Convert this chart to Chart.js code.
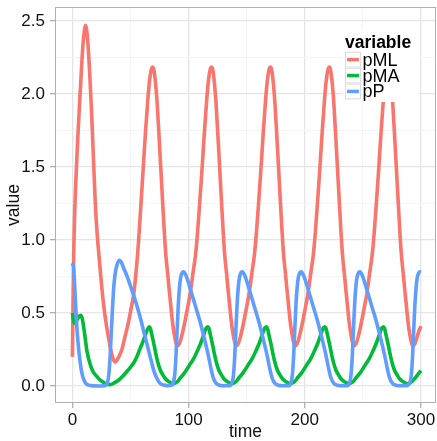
<!DOCTYPE html>
<html>
<head>
<meta charset="utf-8">
<script src="https://cdn.jsdelivr.net/npm/chart.js@4.4.1/dist/chart.umd.min.js"></script>
<style>
  html, body { margin: 0; padding: 0; background: #fff; }
  #wrap { width: 437px; height: 441px; }
</style>
</head>
<body>
<div id="wrap"><canvas id="chart"></canvas></div>
<script>
// series
const seriesNames = ["pML", "pMA", "pP"];
const seriesColors = ["#F8766D", "#00BA38", "#619CFF"];

const pMLTime = [0,0.5,1,1.5,2.2,3.2,4.5,6,7.5,9,10.2,11.2,12.2,13.5,15,16.3,18,19.7,21.5,23,25,26.9,29,31.2,33,34.5,36,37,38.5,40.5,42.6,45,48.3,50.5,52.6,55,57,59.2,61,63,65,66.5,68,
  69,70,71.5,73,75,77.6,79,80.4,82,83.3,84.7,86.1,87.5,89,90.5,92,
  93.7,95.2,96.8,99.2,101.1,103.9,106,107.7,109.7,111.7,113.7,115.7,117.2,118.7,
  119.7,120.7,122.2,123.7,125.7,128.3,129.7,131.1,132.7,134,135.4,136.8,138.2,139.7,141.2,142.7,
  144.4,145.9,147.5,149.9,151.8,154.6,156.7,158.4,160.4,162.4,164.4,166.4,167.9,169.4,
  170.4,171.4,172.9,174.4,176.4,179,180.4,181.8,183.4,184.7,186.1,187.5,188.9,190.4,191.9,193.4,
  195.1,196.6,198.2,200.6,202.5,205.3,207.4,209.1,211.1,213.1,215.1,217.1,218.6,220.1,
  221.1,222.1,223.6,225.1,227.1,229.7,231.1,232.5,234.1,235.4,236.8,238.2,239.6,241.1,242.6,244.1,
  245.8,247.3,248.9,251.3,253.2,256,258.1,259.8,261.8,263.8,265.8,267.8,269.3,270.8,
  271.8,272.8,274.3,275.8,277.8,280.4,281.8,283.2,284.8,286.1,287.5,288.9,290.3,291.8,293.3,294.8,296.5,298,300];
const pMLValue = [0.2,0.55,0.85,1.05,1.25,1.45,1.68,1.91,2.13,2.33,2.43,2.47,2.44,2.33,2.12,1.91,1.58,1.25,1.02,0.88,0.7,0.555,0.43,0.326,0.25,0.2,0.17,0.165,0.18,0.21,0.25,0.33,0.44,0.53,0.62,0.8,1.0,1.27,1.5,1.75,1.97,2.1,2.17,
  2.185,2.17,2.08,1.93,1.65,1.27,1.07,0.9,0.77,0.66,0.55,0.44,0.36,0.3,0.275,0.29,
  0.33,0.38,0.44,0.54,0.62,0.78,0.9,1.05,1.27,1.5,1.75,1.97,2.1,2.17,
  2.185,2.17,2.08,1.93,1.65,1.27,1.07,0.9,0.77,0.66,0.55,0.44,0.36,0.3,0.275,0.29,
  0.33,0.38,0.44,0.54,0.62,0.78,0.9,1.05,1.27,1.5,1.75,1.97,2.1,2.17,
  2.185,2.17,2.08,1.93,1.65,1.27,1.07,0.9,0.77,0.66,0.55,0.44,0.36,0.3,0.275,0.29,
  0.33,0.38,0.44,0.54,0.62,0.78,0.9,1.05,1.27,1.5,1.75,1.97,2.1,2.17,
  2.185,2.17,2.08,1.93,1.65,1.27,1.07,0.9,0.77,0.66,0.55,0.44,0.36,0.3,0.275,0.29,
  0.33,0.38,0.44,0.54,0.62,0.78,0.9,1.05,1.27,1.5,1.75,1.97,2.1,2.17,
  2.185,2.17,2.08,1.93,1.65,1.27,1.07,0.9,0.77,0.66,0.55,0.44,0.36,0.3,0.275,0.29,0.33,0.37,0.41];

const pMATime = [0,0.8,1.7,3,5,7,8.5,10.3,12.6,15.5,18,21.2,24,26.9,29.5,32.6,36,39.7,43,46.9,50,53.2,56,58.4,60.5,62.5,64.5,
  66.1,67.1,68.1,69.1,70.6,72.1,73.6,75.6,77.6,79.6,82.1,84.1,87.1,90.1,
  93.5,96.5,100.5,104.5,107.5,110.5,112.5,114.5,115.5,
  116.5,117.5,118.5,119.5,121,122.5,124,126,128,130,132.5,134.5,137.5,140.5,
  143.9,146.9,150.9,154.9,157.9,160.9,162.9,164.9,165.9,
  166.9,167.9,168.9,169.9,171.4,172.9,174.4,176.4,178.4,180.4,182.9,184.9,187.9,190.9,
  194.3,197.3,201.3,205.3,208.3,211.3,213.3,215.3,216.3,
  217.3,218.3,219.3,220.3,221.8,223.3,224.8,226.8,228.8,230.8,233.3,235.3,238.3,241.3,
  244.7,247.7,251.7,255.7,258.7,261.7,263.7,265.7,266.7,
  267.7,268.7,269.7,270.7,272.2,273.7,275.2,277.2,279.2,281.2,283.7,285.7,288.7,291.7,294.5,297,300];
const pMAValue = [0.5,0.46,0.43,0.44,0.47,0.485,0.46,0.37,0.235,0.144,0.095,0.064,0.04,0.025,0.014,0.01,0.022,0.04,0.065,0.1,0.13,0.165,0.21,0.26,0.3,0.345,0.385,
  0.406,0.395,0.36,0.325,0.27,0.21,0.16,0.11,0.08,0.055,0.035,0.025,0.017,0.028,
  0.062,0.09,0.14,0.19,0.24,0.295,0.34,0.385,0.4,
  0.406,0.395,0.36,0.325,0.27,0.21,0.16,0.11,0.08,0.055,0.035,0.025,0.017,0.028,
  0.062,0.09,0.14,0.19,0.24,0.295,0.34,0.385,0.4,
  0.406,0.395,0.36,0.325,0.27,0.21,0.16,0.11,0.08,0.055,0.035,0.025,0.017,0.028,
  0.062,0.09,0.14,0.19,0.24,0.295,0.34,0.385,0.4,
  0.406,0.395,0.36,0.325,0.27,0.21,0.16,0.11,0.08,0.055,0.035,0.025,0.017,0.028,
  0.062,0.09,0.14,0.19,0.24,0.295,0.34,0.385,0.4,
  0.406,0.395,0.36,0.325,0.27,0.21,0.16,0.11,0.08,0.055,0.035,0.025,0.017,0.028,0.05,0.075,0.105];

const pPTime = [0,0.5,1.2,2,2.8,4,5.4,6.9,8.3,9.7,11.5,14,18,24,28.3,30,31.2,32.3,33.2,34.3,35.5,36.8,38.4,40.5,42,44,46.9,49.8,52.6,55.5,58.4,61.2,64.1,66.3,68.4,70.5,72.7,75,78.4,82,85,
  87.1,88.1,89.1,90.1,91.1,92.1,93.1,94.4,95.6,97.6,101.3,105.6,109.9,113.6,117,119.3,121.3,123.6,126.6,130.6,135.6,
  137.7,138.7,139.7,140.7,141.7,142.7,143.7,145,146.2,148.2,151.9,156.2,160.5,164.2,167.6,169.9,171.9,174.2,177.2,181.2,186.2,
  188.4,189.4,190.4,191.4,192.4,193.4,194.4,195.7,196.9,198.9,202.6,206.9,211.2,214.9,218.3,220.6,222.6,224.9,227.9,231.9,236.9,
  238.9,239.9,240.9,241.9,242.9,243.9,244.9,246.2,247.4,249.4,253.1,257.4,261.7,265.4,268.8,271.1,273.1,275.4,278.4,282.4,287.4,
  290.8,291.8,292.8,293.8,294.8,295.8,296.8,298.1,299.3,300];
const pPValue = [0.82,0.835,0.79,0.68,0.55,0.38,0.25,0.15,0.085,0.045,0.018,0.006,0.001,0,0.004,0.02,0.07,0.18,0.326,0.5,0.67,0.77,0.83,0.862,0.85,0.81,0.755,0.69,0.625,0.55,0.47,0.38,0.29,0.22,0.155,0.095,0.053,0.022,0.007,0.003,0.005,
  0.03,0.08,0.2,0.38,0.55,0.67,0.74,0.775,0.782,0.76,0.67,0.555,0.44,0.325,0.21,0.12,0.055,0.02,0.006,0.002,0.003,
  0.03,0.08,0.2,0.38,0.55,0.67,0.74,0.775,0.782,0.76,0.67,0.555,0.44,0.325,0.21,0.12,0.055,0.02,0.006,0.002,0.003,
  0.03,0.08,0.2,0.38,0.55,0.67,0.74,0.775,0.782,0.76,0.67,0.555,0.44,0.325,0.21,0.12,0.055,0.02,0.006,0.002,0.003,
  0.03,0.08,0.2,0.38,0.55,0.67,0.74,0.775,0.782,0.76,0.67,0.555,0.44,0.325,0.21,0.12,0.055,0.02,0.006,0.002,0.003,
  0.03,0.08,0.2,0.38,0.55,0.67,0.74,0.775,0.782,0.78];

// axis ticks (majors get labels, the rest are minor grid lines)
const xTicks = [0, 50, 100, 150, 200, 250, 300];
const xMajor = [0, 100, 200, 300];
const yTicks = [0, 0.25, 0.5, 0.75, 1, 1.25, 1.5, 1.75, 2, 2.25, 2.5];
const yMajor = [0, 0.5, 1, 1.5, 2, 2.5];

const FONT = "'Liberation Sans', Arial, Helvetica, sans-serif";

function toPoints(times, values) {
  return times.map((t, i) => ({ x: t, y: values[i] }));
}

const isMajorX = (v) => xMajor.includes(v);
const isMajorY = (v) => yMajor.some((m) => Math.abs(m - v) < 1e-9);

// ggplot style frame + legend inside the panel
const panelExtras = {
  id: "panelExtras",
  afterDatasetsDraw(chart) {
    const { ctx, chartArea: a } = chart;
    ctx.save();
    ctx.strokeStyle = "#b0b0b0";
    ctx.lineWidth = 1;
    ctx.strokeRect(a.left + 0.5, a.top + 0.5, a.right - a.left - 1, a.bottom - a.top - 1);

    // legend box
    const lx = a.right - 91;
    const ly = a.top + 23;
    ctx.fillStyle = "#ffffff";
    ctx.fillRect(lx - 2, ly, 76, 72);
    ctx.fillStyle = "#000";
    ctx.font = "bold 17.5px " + FONT;
    ctx.textBaseline = "alphabetic";
    ctx.textAlign = "left";
    ctx.fillText("variable", lx, ly + 18);

    const keyTop = ly + 21.7;
    const keySize = 15.9;
    seriesNames.forEach((name, i) => {
      const ky = keyTop + i * keySize;
      ctx.fillStyle = "#ffffff";
      ctx.fillRect(lx, ky, keySize, keySize);
      ctx.strokeStyle = "#d9d9d9";
      ctx.lineWidth = 1;
      ctx.strokeRect(lx + 0.5, ky + 0.5, keySize - 1, keySize - 1);
      ctx.strokeStyle = seriesColors[i];
      ctx.lineWidth = 3.5;
      ctx.beginPath();
      ctx.moveTo(lx + 2, ky + keySize / 2);
      ctx.lineTo(lx + keySize - 2, ky + keySize / 2);
      ctx.stroke();
      ctx.fillStyle = "#000";
      ctx.font = "18px " + FONT;
      ctx.textBaseline = "middle";
      ctx.fillText(name, lx + keySize + 1.5, ky + keySize / 2 + 1);
    });
    ctx.restore();
  },
};

const allTimes = [pMLTime, pMATime, pPTime];
const allValues = [pMLValue, pMAValue, pPValue];

new Chart(document.getElementById("chart"), {
  type: "line",
  data: {
    datasets: seriesNames.map((name, i) => ({
      label: name,
      data: toPoints(allTimes[i], allValues[i]),
      borderColor: seriesColors[i],
      backgroundColor: seriesColors[i],
      borderWidth: 3.6,
      pointRadius: 0,
      cubicInterpolationMode: "monotone",
      borderJoinStyle: "round",
      fill: false,
      order: 3 - i,
    })),
  },
  options: {
    responsive: true,
    maintainAspectRatio: false,
    animation: false,
    layout: { padding: { top: 7, right: 1, left: 0, bottom: 0 } },
    plugins: {
      legend: { display: false },
      tooltip: { enabled: false },
    },
    scales: {
      x: {
        type: "linear",
        min: -15,
        max: 313,
        afterBuildTicks: (scale) => { scale.ticks = xTicks.map((v) => ({ value: v })); },
        afterFit: (scale) => {
          scale.height = 38;
          scale.paddingLeft = 0;
          scale.paddingRight = 0;
        },
        ticks: {
          autoSkip: false,
          maxRotation: 0,
          padding: 2,
          color: "#111",
          font: { family: FONT, size: 17 },
          callback: (v) => (isMajorX(v) ? String(v) : ""),
        },
        grid: {
          color: (c) => (c.tick && isMajorX(c.tick.value) ? "#e5e5e5" : "#f5f5f5"),
          lineWidth: (c) => (c.tick && isMajorX(c.tick.value) ? 1.3 : 1),
          tickColor: (c) => (c.tick && isMajorX(c.tick.value) ? "#b0b0b0" : "rgba(0,0,0,0)"),
          tickLength: 5,
        },
        border: { display: false },
        title: {
          display: true,
          text: "time",
          color: "#111",
          font: { family: FONT, size: 17.5, lineHeight: 1 },
          padding: { top: 0, bottom: 0 },
        },
      },
      y: {
        type: "linear",
        min: -0.116,
        max: 2.596,
        afterBuildTicks: (scale) => { scale.ticks = yTicks.map((v) => ({ value: v })); },
        afterFit: (scale) => {
          scale.width = 55;
          scale.paddingTop = 0;
          scale.paddingBottom = 0;
        },
        ticks: {
          autoSkip: false,
          padding: 5,
          color: "#111",
          font: { family: FONT, size: 17 },
          callback: (v) => (isMajorY(v) ? Number(v).toFixed(1) : ""),
        },
        grid: {
          color: (c) => (c.tick && isMajorY(c.tick.value) ? "#e5e5e5" : "#f5f5f5"),
          lineWidth: (c) => (c.tick && isMajorY(c.tick.value) ? 1.3 : 1),
          tickColor: (c) => (c.tick && isMajorY(c.tick.value) ? "#b0b0b0" : "rgba(0,0,0,0)"),
          tickLength: 5,
        },
        border: { display: false },
        title: {
          display: true,
          text: "value",
          color: "#111",
          font: { family: FONT, size: 17.5, lineHeight: 1 },
          padding: { top: 5, bottom: 0 },
        },
      },
    },
  },
  plugins: [panelExtras],
});
</script>
</body>
</html>
